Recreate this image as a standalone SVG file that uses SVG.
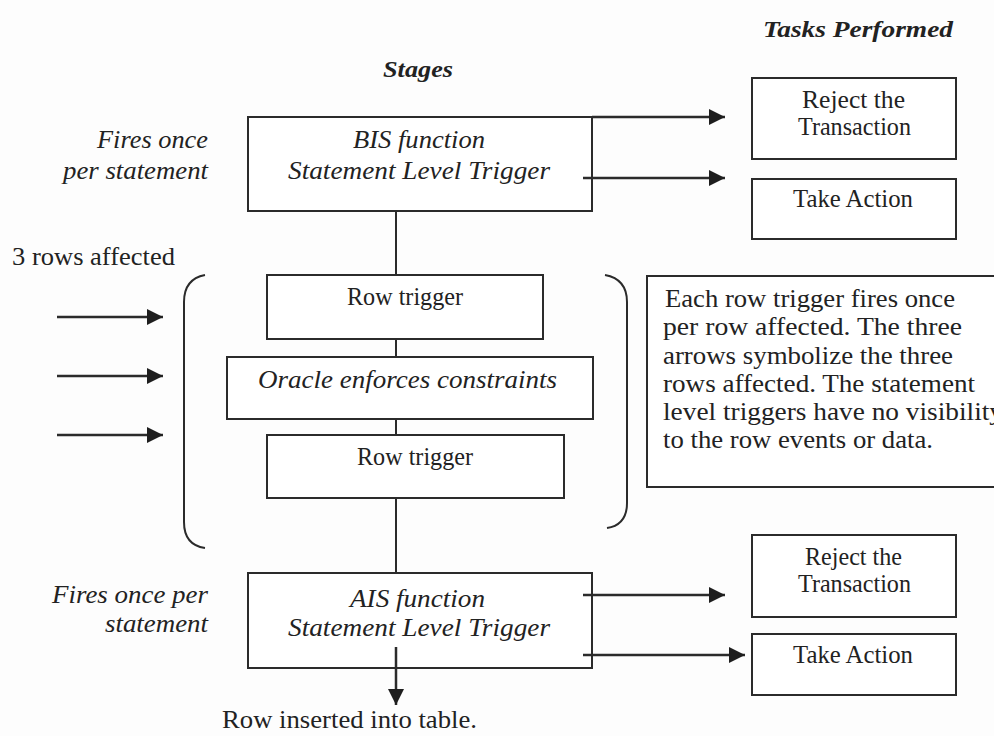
<svg xmlns="http://www.w3.org/2000/svg" width="994" height="736" viewBox="0 0 994 736">
  <style>
    .box { fill: #ffffff; stroke: #2b2b2b; stroke-width: 2; }
    .line { fill: none; stroke: #2b2b2b; stroke-width: 2; }
    .arrow { fill: none; stroke: #2b2b2b; stroke-width: 2.5; marker-end: url(#head); }
    text { font-family: "Liberation Serif", "Times New Roman", Times, serif; fill: #222222; font-size: 25px; }
    .it { font-style: italic; }
    .head { font-style: italic; font-weight: bold; font-size: 24px; }
  </style>
  <defs>
    <marker id="head" viewBox="0 0 10 10" refX="10" refY="5" markerUnits="userSpaceOnUse" markerWidth="18" markerHeight="16" orient="auto">
      <path d="M0,0 L10,5 L0,10 z" fill="#1e1e1e"/>
    </marker>
  </defs>

  <rect width="994" height="736" fill="#fdfdfd"/>

  <!-- column headings -->
  <text class="head" x="763" y="37" textLength="190" lengthAdjust="spacingAndGlyphs">Tasks Performed</text>
  <text class="head" x="383" y="77" textLength="70" lengthAdjust="spacingAndGlyphs">Stages</text>

  <!-- side notes -->
  <g id="note-bis">
    <text class="it" x="97" y="148" textLength="111" lengthAdjust="spacingAndGlyphs">Fires once</text>
    <text class="it" x="63" y="179" textLength="145" lengthAdjust="spacingAndGlyphs">per statement</text>
  </g>
  <g id="note-rows">
    <text x="12" y="265" textLength="163" lengthAdjust="spacingAndGlyphs">3 rows affected</text>
  </g>
  <g id="note-ais">
    <text class="it" x="52" y="603" textLength="156" lengthAdjust="spacingAndGlyphs">Fires once per</text>
    <text class="it" x="105" y="632" textLength="103" lengthAdjust="spacingAndGlyphs">statement</text>
  </g>

  <!-- stage nodes -->
  <g id="bis">
    <rect class="box" x="248" y="117" width="344" height="94"/>
    <text class="it" x="353" y="148" textLength="132" lengthAdjust="spacingAndGlyphs">BIS function</text>
    <text class="it" x="288" y="179" textLength="262" lengthAdjust="spacingAndGlyphs">Statement Level Trigger</text>
  </g>
  <g id="row-trigger-1">
    <rect class="box" x="267" y="275" width="276" height="64"/>
    <text x="347" y="305" textLength="116" lengthAdjust="spacingAndGlyphs">Row trigger</text>
  </g>
  <g id="oracle">
    <rect class="box" x="227" y="357" width="366" height="62"/>
    <text class="it" x="258" y="388" textLength="299" lengthAdjust="spacingAndGlyphs">Oracle enforces constraints</text>
  </g>
  <g id="row-trigger-2">
    <rect class="box" x="267" y="435" width="297" height="63"/>
    <text x="357" y="465" textLength="116" lengthAdjust="spacingAndGlyphs">Row trigger</text>
  </g>
  <g id="ais">
    <rect class="box" x="248" y="573" width="344" height="95"/>
    <text class="it" x="350" y="607" textLength="135" lengthAdjust="spacingAndGlyphs">AIS function</text>
    <text class="it" x="288" y="636" textLength="262" lengthAdjust="spacingAndGlyphs">Statement Level Trigger</text>
  </g>

  <!-- task nodes -->
  <g id="reject-1">
    <rect class="box" x="752" y="78" width="204" height="81"/>
    <text x="802" y="108" textLength="103" lengthAdjust="spacingAndGlyphs">Reject  the</text>
    <text x="798" y="135" textLength="113" lengthAdjust="spacingAndGlyphs">Transaction</text>
  </g>
  <g id="action-1">
    <rect class="box" x="752" y="179" width="204" height="60"/>
    <text x="793" y="207" textLength="120" lengthAdjust="spacingAndGlyphs">Take Action</text>
  </g>
  <g id="reject-2">
    <rect class="box" x="752" y="535" width="204" height="82"/>
    <text x="805" y="565" textLength="97" lengthAdjust="spacingAndGlyphs">Reject the</text>
    <text x="798" y="592" textLength="113" lengthAdjust="spacingAndGlyphs">Transaction</text>
  </g>
  <g id="action-2">
    <rect class="box" x="752" y="634" width="204" height="61"/>
    <text x="793" y="663" textLength="120" lengthAdjust="spacingAndGlyphs">Take Action</text>
  </g>

  <!-- explanation box -->
  <g id="explanation">
    <rect class="box" x="647" y="276" width="360" height="211"/>
    <text x="665" y="307" textLength="290" lengthAdjust="spacingAndGlyphs">Each row trigger fires once</text>
    <text x="663" y="335" textLength="299" lengthAdjust="spacingAndGlyphs">per row affected.  The three</text>
    <text x="663" y="364" textLength="290" lengthAdjust="spacingAndGlyphs">arrows symbolize the three</text>
    <text x="663" y="392" textLength="312" lengthAdjust="spacingAndGlyphs">rows affected. The statement</text>
    <text x="663" y="420" textLength="340" lengthAdjust="spacingAndGlyphs">level triggers have no visibility</text>
    <text x="663" y="448" textLength="270" lengthAdjust="spacingAndGlyphs">to the row events or data.</text>
  </g>

  <g id="result">
    <text x="222" y="728" textLength="255" lengthAdjust="spacingAndGlyphs">Row inserted into table.</text>
  </g>

  <!-- connectors -->
  <g id="connectors">
    <line class="line" x1="396" y1="211" x2="396" y2="275"/>
    <line class="line" x1="396" y1="339" x2="396" y2="357"/>
    <line class="line" x1="396" y1="419" x2="396" y2="435"/>
    <line class="line" x1="396" y1="498" x2="396" y2="573"/>
    <line class="arrow" x1="396" y1="647" x2="396" y2="705"/>

    <line class="arrow" x1="592" y1="117" x2="725" y2="117"/>
    <line class="arrow" x1="583" y1="178" x2="725" y2="178"/>
    <line class="arrow" x1="583" y1="595" x2="725" y2="595"/>
    <line class="arrow" x1="583" y1="655" x2="745" y2="655"/>

    <line class="arrow" x1="57" y1="317" x2="163" y2="317"/>
    <line class="arrow" x1="57" y1="376" x2="163" y2="376"/>
    <line class="arrow" x1="57" y1="435" x2="163" y2="435"/>

    <!-- grouping brackets around the row-level stages -->
    <path class="line" d="M205,275 Q184,279 184,302 L184,522 Q184,545 205,548"/>
    <path class="line" d="M605,275 Q627,279 627,302 L627,503 Q627,525 607,528"/>
  </g>
</svg>
